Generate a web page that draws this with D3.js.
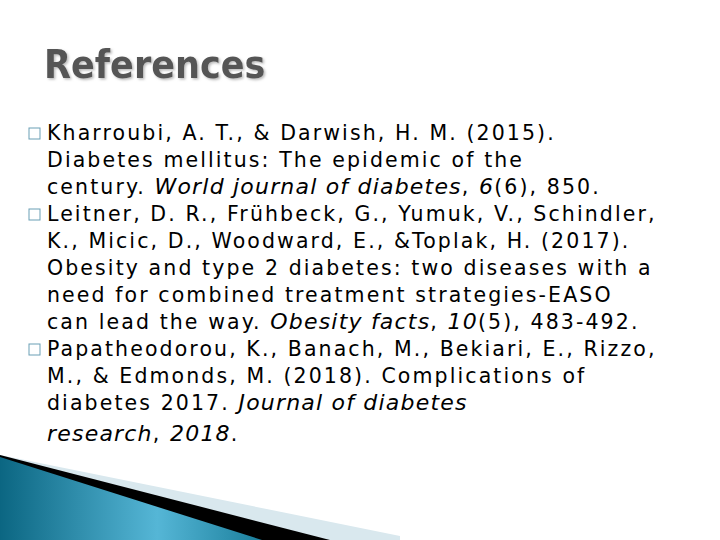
<!DOCTYPE html>
<html><head><meta charset="utf-8">
<script src="https://cdn.jsdelivr.net/npm/d3@7"></script>
<style>body{margin:0;background:#fff}</style>
</head><body><svg id="c"></svg>
<script>
const W = 720, H = 540;
const title = "References";
// each line: [text, italic?] segments
const lines = [
  [["Kharroubi, A. T., & Darwish, H. M. (2015).", 0]],
  [["Diabetes mellitus: The epidemic of the", 0]],
  [["century. ", 0], ["World journal of diabetes", 1], [", ", 0], ["6", 1], ["(6), 850.", 0]],
  [["Leitner, D. R., Frühbeck, G., Yumuk, V., Schindler,", 0]],
  [["K., Micic, D., Woodward, E., &Toplak, H. (2017).", 0]],
  [["Obesity and type 2 diabetes: two diseases with a", 0]],
  [["need for combined treatment strategies-EASO", 0]],
  [["can lead the way. ", 0], ["Obesity facts", 1], [", ", 0], ["10", 1], ["(5), 483-492.", 0]],
  [["Papatheodorou, K., Banach, M., Bekiari, E., Rizzo,", 0]],
  [["M., & Edmonds, M. (2018). Complications of", 0]],
  [["diabetes 2017. ", 0], ["Journal of diabetes", 1]],
  [["research", 1], [", ", 0], ["2018", 1], [".", 0]]
];
const bulletLines = [0, 3, 8];

const svg = d3.select("#c").attr("width", W).attr("height", H);
const defs = svg.append("defs");
const g = defs.append("linearGradient").attr("id", "bl").attr("x1", 0).attr("x2", 1).attr("y1", 0).attr("y2", 0);
g.append("stop").attr("offset", "0").attr("stop-color", "#0b6682");
g.append("stop").attr("offset", "0.6").attr("stop-color", "#55b6d6");
g.append("stop").attr("offset", "1").attr("stop-color", "#1b7f9c");
const f = defs.append("filter").attr("id", "sh");
f.append("feDropShadow").attr("dx", 1.5).attr("dy", 1.5).attr("stdDeviation", 1).attr("flood-color", "#bbb");

// bottom-left decoration
svg.append("polygon").attr("points", "0,455 400,536 400,540 0,540").attr("fill", "#d9e8ee");
svg.append("polygon").attr("points", "0,455 330,540 0,540").attr("fill", "#000");
svg.append("polygon").attr("points", "0,457 262,540 0,540").attr("fill", "url(#bl)");

svg.append("text").attr("x", 44).attr("y", 78).text(title)
  .attr("font-family", "DejaVu Sans Condensed, DejaVu Sans").attr("font-weight", "bold")
  .attr("font-size", 39).attr("fill", "#555").attr("filter", "url(#sh)");

const y = d3.scaleLinear().domain([0, 11]).range([140, 437]);
const body = svg.append("g").attr("font-family", "DejaVu Sans").attr("font-size", 20.5)
  .attr("letter-spacing", 2.1).attr("fill", "#000");
lines.forEach((segs, i) => {
  const t = body.append("text").attr("x", 47).attr("y", y(i) + (i === 11 ? 4 : 0));
  segs.forEach(([s, it]) => {
    const sp = t.append("tspan").text(s).attr("xml:space", "preserve");
    if (it) sp.attr("font-style", "italic").attr("font-size", 22).attr("letter-spacing", 1.2);
  });
});
bulletLines.forEach(i => {
  svg.append("rect").attr("x", 29).attr("y", y(i) - 12).attr("width", 11).attr("height", 11)
    .attr("fill", "none").attr("stroke", "#6a9fb5").attr("stroke-width", 1);
});
</script></body></html>
